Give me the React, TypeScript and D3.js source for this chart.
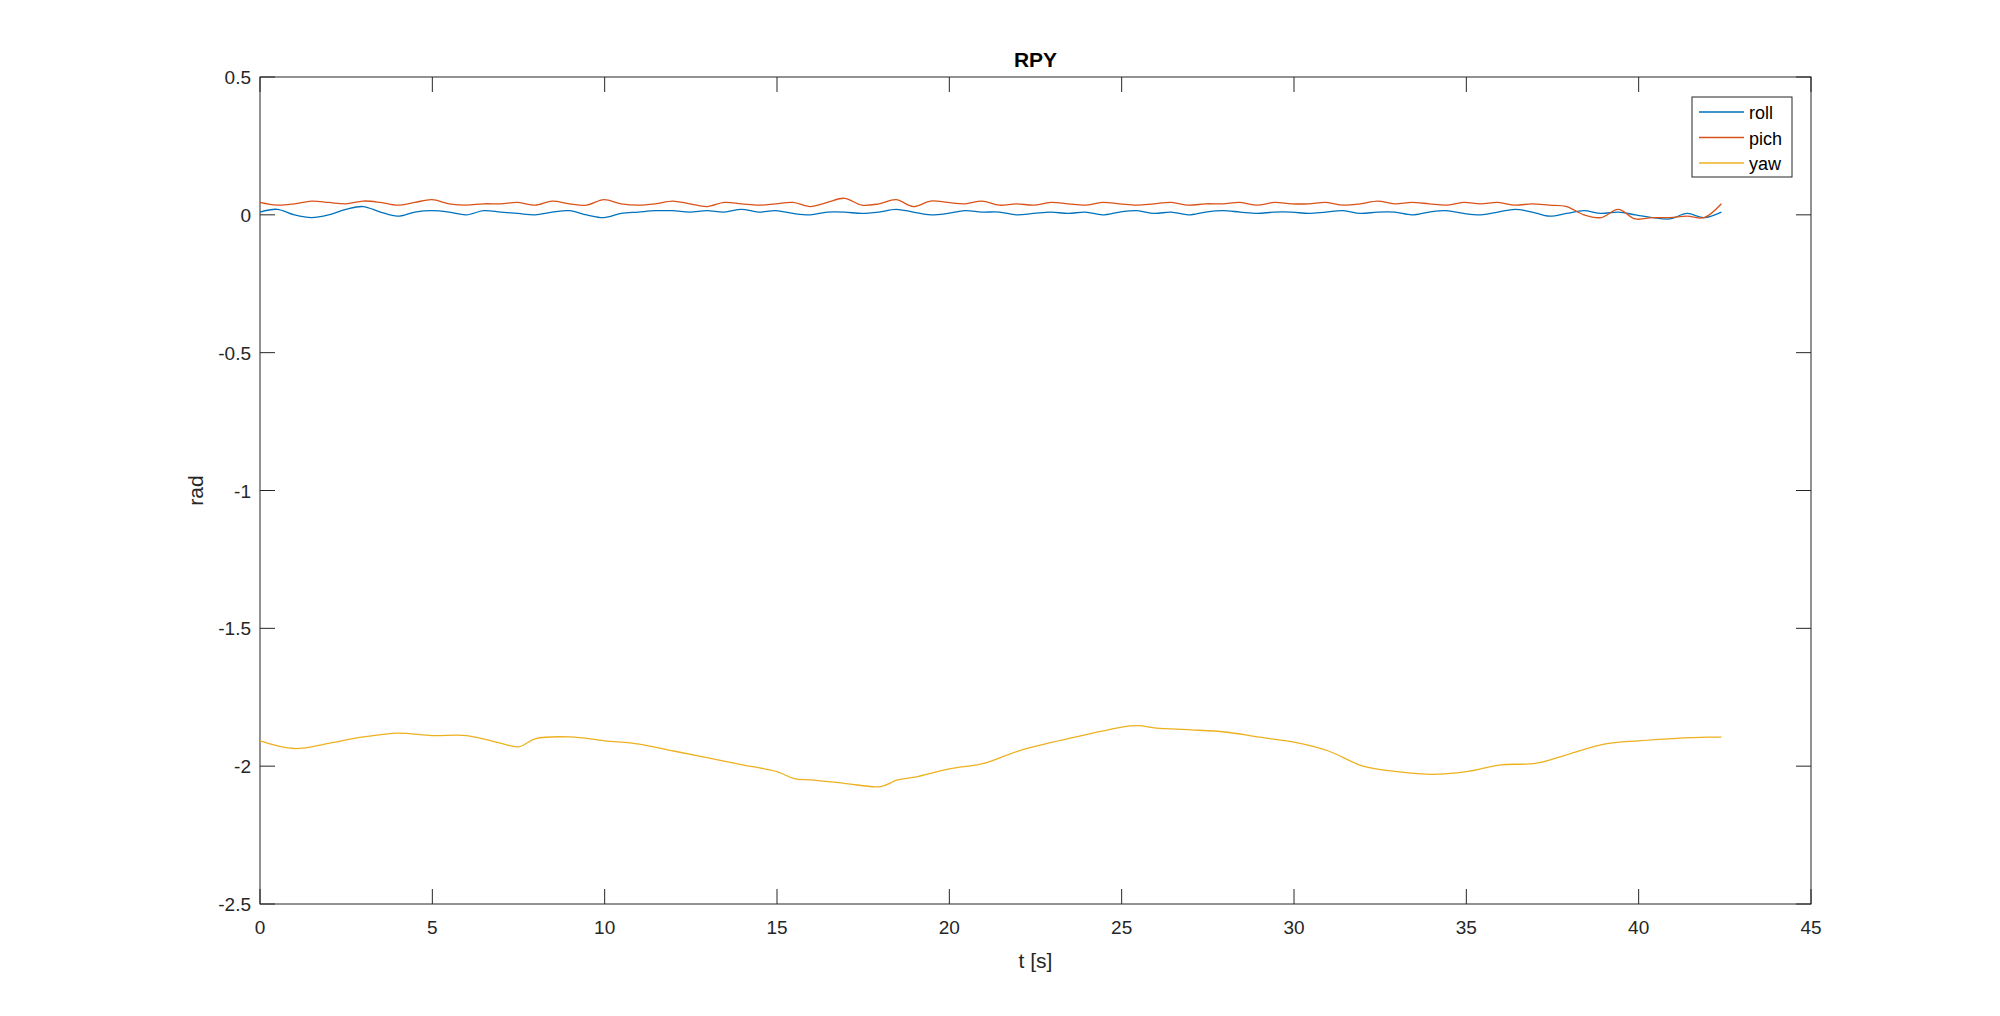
import * as d3 from "d3";
import { ReactElement } from "react";

const tEnd = 42.4;
const roll = [0.01, 0.02, 0.0, -0.01, 0.0, 0.02, 0.03, 0.01, -0.005, 0.01, 0.015, 0.01, 0.0, 0.015, 0.01,
  0.005, 0.0, 0.01, 0.015, 0.0, -0.01, 0.005, 0.01, 0.015, 0.015, 0.01, 0.015, 0.01, 0.02, 0.01, 0.015,
  0.005, 0.0, 0.01, 0.01, 0.005, 0.01, 0.02, 0.01, 0.0, 0.005, 0.015, 0.01, 0.01, 0.0, 0.005, 0.01,
  0.005, 0.01, 0.0, 0.01, 0.015, 0.005, 0.01, 0.0, 0.01, 0.015, 0.01, 0.005, 0.01, 0.01, 0.005, 0.01,
  0.015, 0.005, 0.01, 0.01, 0.0, 0.01, 0.015, 0.005, 0.0, 0.01, 0.02, 0.01, -0.005, 0.005, 0.015,
  0.005, 0.01, 0.0, -0.01, -0.015, 0.005, -0.01, 0.01];
const pich = [0.045, 0.035, 0.04, 0.05, 0.045, 0.04, 0.05, 0.045, 0.035, 0.045, 0.055, 0.04, 0.035,
  0.04, 0.04, 0.045, 0.035, 0.05, 0.04, 0.035, 0.055, 0.04, 0.035, 0.04, 0.05, 0.04, 0.03, 0.045,
  0.04, 0.035, 0.04, 0.045, 0.03, 0.045, 0.06, 0.035, 0.04, 0.055, 0.03, 0.05, 0.045, 0.04, 0.05,
  0.035, 0.04, 0.035, 0.045, 0.04, 0.035, 0.045, 0.04, 0.035, 0.04, 0.045, 0.035, 0.04, 0.04, 0.045,
  0.035, 0.045, 0.04, 0.04, 0.045, 0.035, 0.04, 0.05, 0.04, 0.045, 0.04, 0.035, 0.045, 0.04, 0.045,
  0.035, 0.04, 0.035, 0.03, 0.0, -0.01, 0.02, -0.015, -0.01, -0.01, -0.005, -0.01, 0.04];
const tYaw = [0, 1, 2, 3, 4, 5, 6, 7, 7.5, 8, 9, 10, 11, 12, 13, 14, 15, 15.5, 16, 17, 18, 18.5, 19, 20,
  21, 22, 23, 24, 25, 25.5, 26, 27, 28, 29, 30, 31, 32, 33, 34, 35, 36, 37, 38, 39, 40, 41, 42, 42.4];
const yaw = [-1.908, -1.936, -1.917, -1.894, -1.88, -1.889, -1.889, -1.917, -1.93, -1.9, -1.894, -1.908,
  -1.92, -1.945, -1.97, -1.995, -2.02, -2.045, -2.05, -2.063, -2.074, -2.05, -2.04, -2.01, -1.99,
  -1.945, -1.913, -1.885, -1.858, -1.853, -1.862, -1.868, -1.876, -1.895, -1.913, -1.945, -2.0,
  -2.02, -2.03, -2.02, -1.995, -1.99, -1.955, -1.92, -1.908, -1.9, -1.895, -1.895];
const evenT = (n: number) => d3.range(n).map(i => (i * tEnd) / (n - 1));
const series = [
  { name: "roll", color: "#0072BD", t: evenT(roll.length), v: roll },
  { name: "pich", color: "#D95319", t: evenT(pich.length), v: pich },
  { name: "yaw", color: "#EDB120", t: tYaw, v: yaw },
];
const xTicks = d3.range(0, 46, 5);
const yTicks = [0.5, 0, -0.5, -1, -1.5, -2, -2.5];

const L = 260, R = 1811, T = 77, B = 904;
const font = "Arial, 'Liberation Sans', sans-serif";

export default function App(): ReactElement {
  const x = d3.scaleLinear().domain([0, 45]).range([L, R]);
  const y = d3.scaleLinear().domain([-2.5, 0.5]).range([B, T]);
  const line = d3.line<[number, number]>().x(d => x(d[0])).y(d => y(d[1])).curve(d3.curveCatmullRom);
  return (
    <svg width={2000} height={1016} style={{ position: "absolute", left: 0, top: 0, background: "#fff" }} fontFamily={font}>
      <rect x={L} y={T} width={R - L} height={B - T} fill="#fff" stroke="#262626" />
      {series.map(s => (
        <path key={s.name} d={line(s.t.map((t, i) => [t, s.v[i]]))!} fill="none" stroke={s.color} strokeWidth={1.3} />
      ))}
      {xTicks.map(t => (
        <g key={t}>
          <line x1={x(t)} x2={x(t)} y1={B} y2={B - 15} stroke="#262626" />
          <line x1={x(t)} x2={x(t)} y1={T} y2={T + 15} stroke="#262626" />
          <text x={x(t)} y={B + 30} textAnchor="middle" fontSize={19} fill="#262626">{t}</text>
        </g>
      ))}
      {yTicks.map(t => (
        <g key={t}>
          <line x1={L} x2={L + 15} y1={y(t)} y2={y(t)} stroke="#262626" />
          <line x1={R} x2={R - 15} y1={y(t)} y2={y(t)} stroke="#262626" />
          <text x={L - 9} y={y(t) + 7} textAnchor="end" fontSize={19} fill="#262626">{t}</text>
        </g>
      ))}
      <text x={(L + R) / 2} y={T - 10} textAnchor="middle" fontSize={21} fontWeight="bold" fill="#000">RPY</text>
      <text x={(L + R) / 2} y={B + 64} textAnchor="middle" fontSize={21} fill="#262626">t [s]</text>
      <text transform={`translate(${L - 57},${(T + B) / 2}) rotate(-90)`} textAnchor="middle" fontSize={21} fill="#262626">rad</text>
      <g transform="translate(1692,97)">
        <rect width={100} height={80} fill="#fff" stroke="#262626" />
        {series.map((s, i) => (
          <g key={s.name} transform={`translate(0,${15 + i * 25.5})`}>
            <line x1={7} x2={52} y1={0} y2={0} stroke={s.color} strokeWidth={1.3} />
            <text x={57} y={7} fontSize={18} fill="#000">{s.name}</text>
          </g>
        ))}
      </g>
    </svg>
  );
}
